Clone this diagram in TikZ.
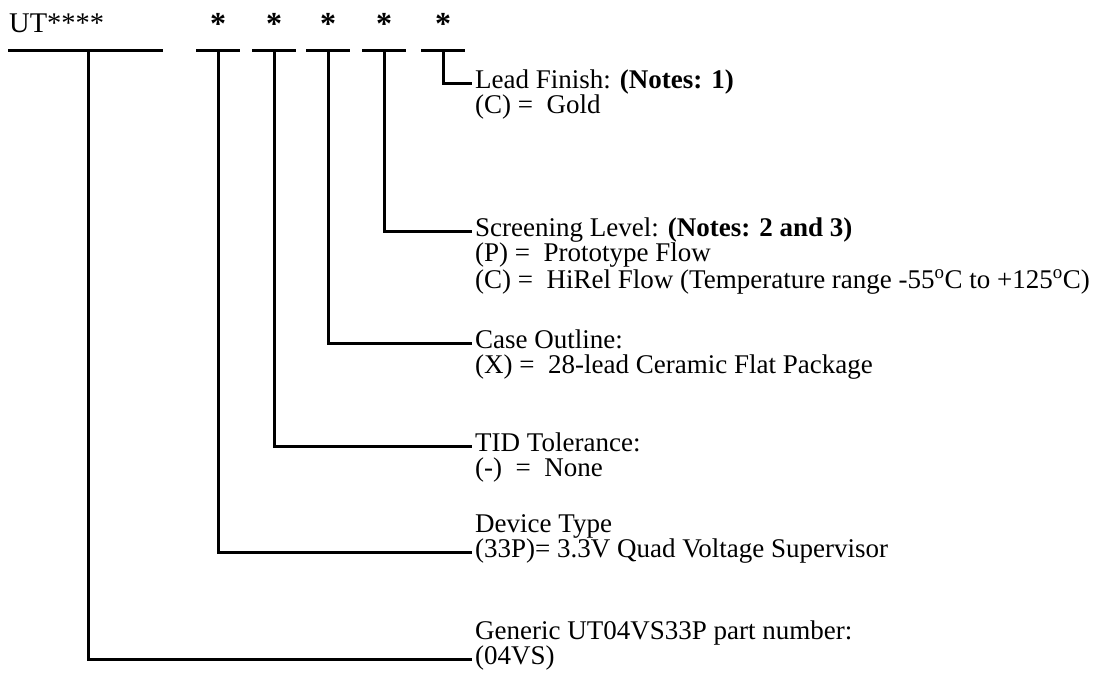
\documentclass[tikz,border=0pt]{standalone}
\usepackage{fontspec}
\setmainfont{Liberation Serif}
\usetikzlibrary{positioning}
\newcommand{\degc}{\textsuperscript{o}C}
\tikzset{
    wire/.style={line width=3pt},
    head/.style={anchor=west, inner xsep=3pt, inner ysep=0pt, text height=17pt, text depth=7pt,
        font=\fontsize{27}{30}\selectfont},
    star/.style={anchor=base, inner sep=0pt, font=\fontsize{32}{34}\selectfont\bfseries},
}
\begin{document}
\begin{tikzpicture}[x=1pt, y=-1pt]
    \useasboundingbox (0,0) rectangle (1096,673);
    % part number and the five option fields
    \node[anchor=base west, inner sep=0pt, font=\fontsize{28.5}{34}\selectfont] (ut) at (9,32) {UT****};
    \node[star] (s1) at (218,34) {*};
    \node[star] (s2) at (274,34) {*};
    \node[star] (s3) at (328,34) {*};
    \node[star] (s4) at (384,34) {*};
    \node[star] (s5) at (443,34) {*};
    \coordinate (bar) at (0,50);
    \coordinate (ut-l) at (8,50);
    \coordinate (ut-r) at (163,50);
    \coordinate (ut-c) at (88,50);
    \draw[wire] (ut-l) -- (ut-r);
    \foreach \s in {s1,s2,s3,s4,s5}
        \draw[wire] ([xshift=-22pt]\s |- bar) -- ([xshift=22pt]\s |- bar);

    % descriptions
    \node[head] (lead) at (472,83) {Lead Finish: \textbf{(Notes: 1)}};
    \node[head] (lead-c) at ([yshift=-25pt]lead.west) {(C)~=~~Gold};
    \node[head] (scr) at (472,231) {Screening Level: \textbf{(Notes: 2 and 3)}};
    \node[head] (scr-p) at ([yshift=-25pt]scr.west) {(P)~=~~Prototype Flow};
    \node[head] (scr-c) at ([yshift=-27pt]scr-p.west) {(C)~=~~HiRel Flow (Temperature range -55\degc{} to +125\degc)};
    \node[head] (case) at (472,343) {Case Outline:};
    \node[head] (case-x) at ([yshift=-25pt]case.west) {(X)~=~~28-lead Ceramic Flat Package};
    \node[head] (tid) at (472,446) {TID Tolerance:};
    \node[head] (tid-n) at ([yshift=-25pt]tid.west) {(-)~~=~~None};
    \node[head] (dev-v) at (472,552) {(33P)= 3.3V Quad Voltage Supervisor};
    \node[head] (dev) at ([yshift=25pt]dev-v.west) {Device Type};
    \node[head] (gen-v) at (472,659) {(04VS)};
    \node[head] (gen) at ([yshift=25pt]gen-v.west) {Generic UT04VS33P part number:};

    % leaders
    \draw[wire] (s5 |- bar) |- (lead.west);
    \draw[wire] (s4 |- bar) |- (scr.west);
    \draw[wire] (s3 |- bar) |- (case.west);
    \draw[wire] (s2 |- bar) |- (tid.west);
    \draw[wire] (s1 |- bar) |- (dev-v.west);
    \draw[wire] (ut-c) |- (gen-v.west);
\end{tikzpicture}
\end{document}
